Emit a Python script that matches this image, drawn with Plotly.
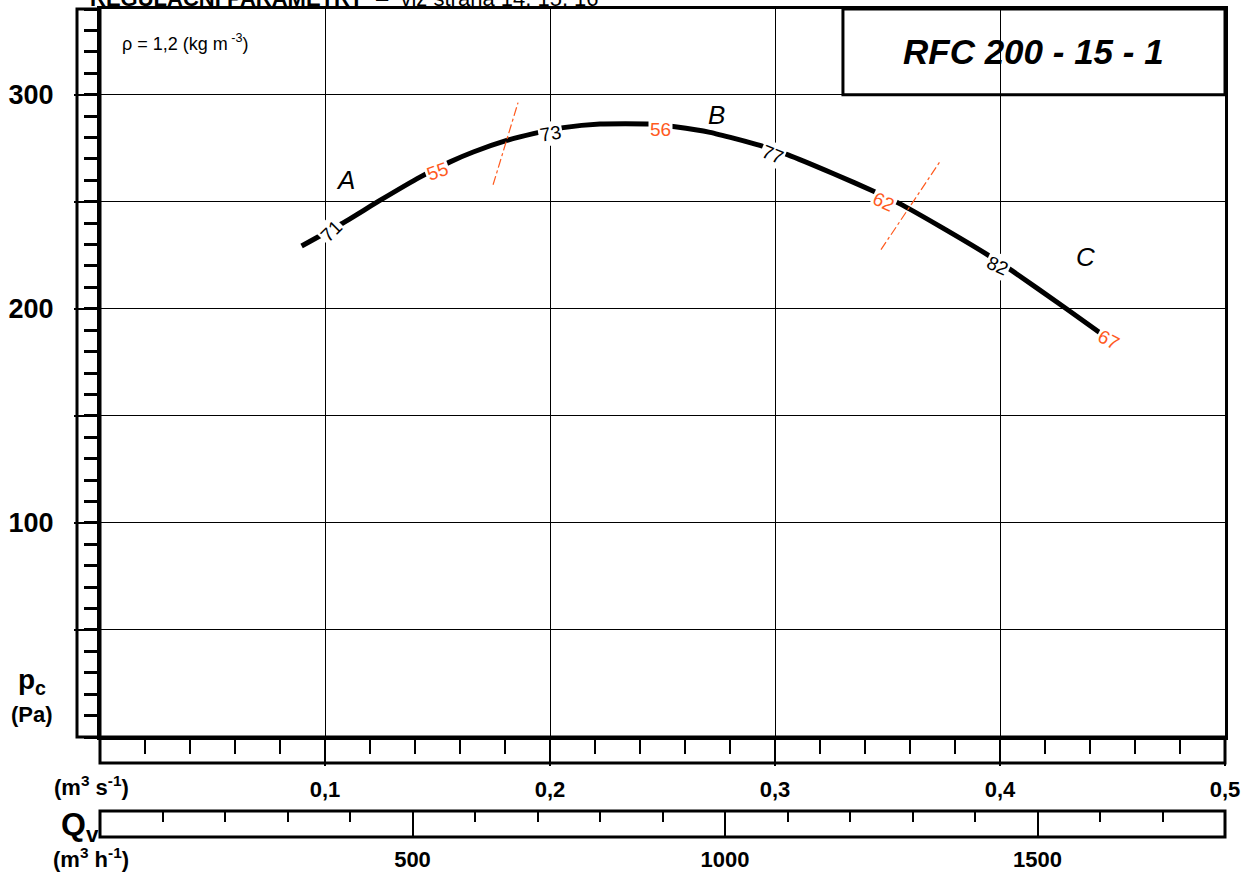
import plotly.graph_objects as go

# ---------------- data ----------------
flow_q = [0.0896, 0.1074, 0.1244, 0.1422, 0.1556, 0.1659, 0.1808, 0.1926, 0.2059, 0.2222,
          0.2444, 0.2556, 0.2711, 0.2933, 0.3058, 0.3258, 0.3453, 0.3556, 0.3733, 0.3933,
          0.4053, 0.4284, 0.4444]
pressure = [229.3, 239.7, 250.6, 261.5, 268.6, 273.2, 278.6, 281.8, 284.6, 286.3,
            286.3, 285.0, 282.4, 276.3, 271.9, 263.2, 254.2, 249.0, 238.5, 226.0,
            217.8, 200.8, 188.8]

point_labels = ['71', '55', '73', '56', '77', '62', '82', '67']
point_q = [0.1027, 0.1498, 0.2004, 0.2489, 0.2991, 0.3480, 0.3987, 0.4480]
point_p = [236.0, 264.0, 281.8, 283.6, 272.0, 250.0, 220.1, 185.5]
point_kind = ['eta', 'lw', 'eta', 'lw', 'eta', 'lw', 'eta', 'lw']

zone_names = ['A', 'B', 'C']
zone_q = [0.1093, 0.2742, 0.4378]
zone_p = [260.3, 290.7, 224.3]

boundary1_q = [0.1747, 0.1858]
boundary1_p = [257.9, 296.3]
boundary2_q = [0.3471, 0.3733]
boundary2_p = [227.6, 268.7]

q_s_ticks = [0.1, 0.2, 0.3, 0.4, 0.5]
q_h_ticks = [500, 1000, 1500]
p_ticks = [50, 100, 150, 200, 250, 300]
p_ticktext = ['', '100', '', '200', '', '300']

title_text = 'RFC 200 - 15 - 1'
header_text = '<b>REGULAČNÍ PARAMETRY</b>  –  viz strana 14, 15, 16'
density_text = 'ρ = 1,2 (kg m<sup> -3</sup>)'

# ---------------- layout helpers (styles) ----------------
W, H = 1244, 873
ML, MR, MT, MB = 100, 19, 9, 36
PW, PH = W - ML - MR, H - MT - MB
FONT = 'Liberation Sans, Arial, sans-serif'
ORANGE = '#ff5a1e'
label_angles = [-45, -20, -10, 0, 22, 25, 25, 28]


def pxx(px):
    return (px - ML) / PW


def pxy(py):
    return (H - MB - py) / PH


main_bottom = pxy(737)

fig = go.Figure()

# performance curve
fig.add_trace(go.Scatter(x=flow_q, y=pressure, mode='lines',
                         line=dict(color='black', width=5, shape='spline', smoothing=0.5),
                         hoverinfo='skip', showlegend=False))
# regulation boundaries
for bq, bp in [(boundary1_q, boundary1_p), (boundary2_q, boundary2_p)]:
    fig.add_trace(go.Scatter(x=bq, y=bp, mode='lines',
                             line=dict(color=ORANGE, width=1.2, dash='dashdot'),
                             hoverinfo='skip', showlegend=False))

# invisible traces to register the m3/h band axes
fig.add_trace(go.Scatter(x=[0, 1800], y=[0.5, 0.5], xaxis='x2', yaxis='y2', mode='markers',
                         marker=dict(opacity=0), hoverinfo='skip', showlegend=False))
fig.add_trace(go.Scatter(x=[0, 1800], y=[0.5, 0.5], xaxis='x3', yaxis='y2', mode='markers',
                         marker=dict(opacity=0), hoverinfo='skip', showlegend=False))

annotations = []
for txt, q, p, kind, ang in zip(point_labels, point_q, point_p, point_kind, label_angles):
    annotations.append(dict(x=q, y=p, xref='x', yref='y', text=txt, showarrow=False,
                            xanchor='center', yanchor='middle',
                            textangle=ang, bgcolor='white', borderpad=1,
                            font=dict(family=FONT, size=19,
                                      color=ORANGE if kind == 'lw' else 'black')))
for name, q, p in zip(zone_names, zone_q, zone_p):
    annotations.append(dict(x=q, y=p, xref='x', yref='y', text=f'<i>{name}</i>',
                            xanchor='center', yanchor='middle',
                            showarrow=False, font=dict(family=FONT, size=26, color='black')))


def paper_text(px, py, text, size, **kw):
    d = dict(x=pxx(px), y=pxy(py), xref='paper', yref='paper', text=text,
             xanchor='center', yanchor='middle', showarrow=False,
             font=dict(family=FONT, size=size, color='black'))
    d.update(kw)
    return d


annotations += [
    dict(x=(0.3302 + 0.5) / 2, y=320.1, xref='x', yref='y', text=f'<b><i>{title_text}</i></b>',
         xanchor='center', yanchor='middle',
         showarrow=False, font=dict(family=FONT, size=35, color='black')),
    paper_text(120, 43, density_text, 18, xanchor='left'),
    paper_text(88, 13, header_text, 22, xanchor='left', yanchor='bottom'),
    paper_text(32, 681, '<b>p<sub>c</sub></b>', 28),
    paper_text(32, 714, '<b>(Pa)</b>', 22),
    paper_text(91, 786, '<b>(m<sup>3</sup> s<sup>-1</sup>)</b>', 22),
    paper_text(80, 826, '<b>Q<sub>v</sub></b>', 32),
    paper_text(91, 858, '<b>(m<sup>3</sup> h<sup>-1</sup>)</b>', 22),
]

shapes = [
    # title box
    dict(type='rect', xref='x', yref='y', x0=0.3302, x1=0.5, y0=300, y1=340,
         line=dict(color='black', width=3), fillcolor='white', layer='below'),
    # left pressure band
    dict(type='rect', xref='paper', yref='paper', x0=pxx(77), x1=0, y0=main_bottom, y1=1,
         line=dict(color='black', width=3)),
    # m3/s band
    dict(type='rect', xref='paper', yref='paper', x0=0, x1=1, y0=pxy(763), y1=main_bottom,
         line=dict(color='black', width=3)),
    # m3/h band
    dict(type='rect', xref='paper', yref='paper', x0=0, x1=1, y0=0, y1=pxy(811),
         line=dict(color='black', width=3)),
]

fig.update_layout(
    width=W, height=H,
    margin=dict(l=ML, r=MR, t=MT, b=MB, autoexpand=False),
    paper_bgcolor='white', plot_bgcolor='white',
    font=dict(family=FONT, color='black'),
    showlegend=False,
    xaxis=dict(range=[0, 0.5], domain=[0, 1], anchor='y',
               tickvals=q_s_ticks,
               ticktext=[f'<b>{v:.1f}</b>'.replace('.', ',') for v in q_s_ticks],
               ticks='outside', ticklen=26, tickwidth=2, tickcolor='black',
               minor=dict(dtick=0.02, ticks='outside', ticklen=14, tickwidth=2,
                          tickcolor='black', showgrid=False),
               showgrid=True, gridcolor='black', gridwidth=1,
               showline=True, linecolor='black', linewidth=3, mirror=True,
               tickfont=dict(family=FONT, size=22, color='black'),
               ticklabelstandoff=5, zeroline=False, fixedrange=True),
    yaxis=dict(range=[0, 340], domain=[main_bottom, 1], anchor='x',
               tickvals=p_ticks, ticktext=[f'<b>{t}</b>' if t else '' for t in p_ticktext],
               ticks='outside', ticklen=23, tickwidth=2, tickcolor='black',
               minor=dict(dtick=10, ticks='outside', ticklen=13, tickwidth=3,
                          tickcolor='black', showgrid=False),
               showgrid=True, gridcolor='black', gridwidth=1,
               showline=True, linecolor='black', linewidth=3, mirror=True,
               tickfont=dict(family=FONT, size=27, color='black'),
               ticklabelstandoff=15, zeroline=False, fixedrange=True),
    xaxis2=dict(range=[0, 1800], domain=[0, 1], anchor='y2', side='bottom',
                tickvals=q_h_ticks, ticktext=[f'<b>{v}</b>' for v in q_h_ticks],
                ticks='', showgrid=False, zeroline=False, showline=False,
                tickfont=dict(family=FONT, size=22, color='black'),
                ticklabelstandoff=7, fixedrange=True),
    xaxis3=dict(range=[0, 1800], overlaying='x2', anchor='y2', side='top',
                tickvals=q_h_ticks, showticklabels=False,
                ticks='inside', ticklen=26, tickwidth=2, tickcolor='black',
                minor=dict(dtick=100, ticks='inside', ticklen=11, tickwidth=2,
                           tickcolor='black', showgrid=False),
                showgrid=True, gridcolor='black', gridwidth=2,
                zeroline=False, showline=False, fixedrange=True),
    yaxis2=dict(range=[0, 1], domain=[0, pxy(811)], anchor='x2',
                visible=False, fixedrange=True),
    annotations=annotations,
    shapes=shapes,
)

fig.write_html('out.html', config={'displayModeBar': False})
